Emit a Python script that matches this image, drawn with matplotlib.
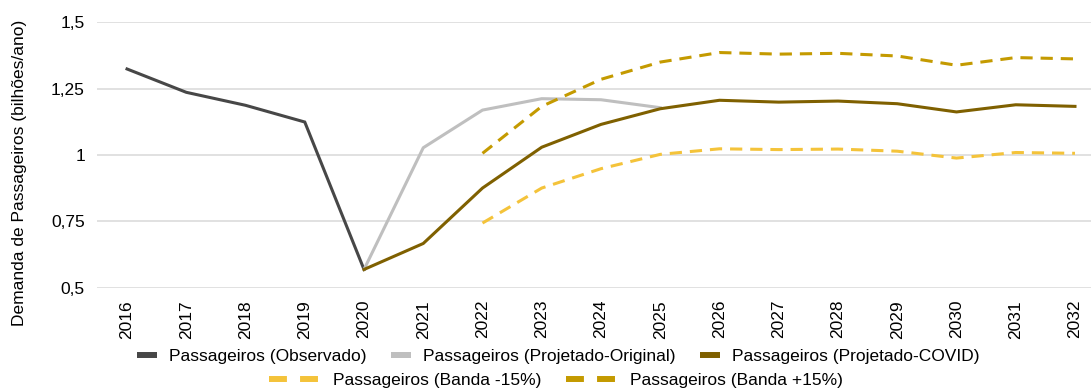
import numpy as np
import matplotlib
matplotlib.use("Agg")
import matplotlib.pyplot as plt
from matplotlib.lines import Line2D

plt.rcParams['font.family'] = ['Liberation Sans', 'DejaVu Sans']

# Years on the category axis
years = [str(y) for y in range(2016, 2033)]

nan = np.nan
# Passenger demand (billions / year)
observado = [1.324, 1.236, 1.187, 1.124, 0.568] + [nan] * 12
projetado_original = [nan] * 4 + [0.568, 1.027, 1.169, 1.212, 1.208, 1.178] + [nan] * 7
projetado_covid = [nan] * 4 + [0.568, 0.666, 0.875, 1.029, 1.115, 1.174,
                               1.206, 1.199, 1.203, 1.193, 1.162, 1.189, 1.183]
banda_menos = [nan] * 6 + [0.743, 0.875, 0.948, 1.002, 1.023, 1.020,
                           1.022, 1.014, 0.988, 1.009, 1.006]
banda_mais = [nan] * 6 + [1.006, 1.183, 1.285, 1.350, 1.386, 1.380,
                          1.383, 1.373, 1.338, 1.367, 1.362]

yticks = [0.5, 0.75, 1.0, 1.25, 1.5]
ytick_labels = ['0,5', '0,75', '1', '1,25', '1,5']

labels = ['Passageiros (Observado)', 'Passageiros (Projetado-Original)',
          'Passageiros (Projetado-COVID)', 'Passageiros (Banda -15%)',
          'Passageiros (Banda +15%)']
colors = ['#474747', '#bfbfbf', '#7f6000', '#f4c33a', '#c49a00']

W, H = 1091, 389
fig = plt.figure(figsize=(W / 100, H / 100), dpi=100)
# axes in pixel terms: x from 97.4 to 1104.6, y from 22.3 (top) to 287.5 (bottom)
ax = fig.add_axes([97.4 / W, (H - 287.5) / H, 1007.2 / W, 265.2 / H])
ax.set_clip_on(True)

x = np.arange(len(years))
lw = 2.2
dash = (0, (4.0, 2.6))
ax.plot(x, observado, color=colors[0], lw=lw, solid_joinstyle='miter', zorder=3)
ax.plot(x, projetado_original, color=colors[1], lw=lw, zorder=3)
ax.plot(x, projetado_covid, color=colors[2], lw=lw, zorder=4)
ax.plot(x, banda_menos, color=colors[3], lw=lw, linestyle=dash, zorder=5)
ax.plot(x, banda_mais, color=colors[4], lw=lw, linestyle=dash, zorder=5)

ax.set_xlim(-0.5, 16.5)
ax.set_ylim(0.5, 1.5)
ax.set_xticks(x)
ax.set_xticklabels(years, rotation=90, fontsize=12.5, color='#000000')
ax.set_yticks(yticks)
ax.set_yticklabels(ytick_labels, fontsize=12.5, color='#000000')
ax.tick_params(axis='both', length=0)
ax.tick_params(axis='x', pad=9)
ax.tick_params(axis='y', pad=9)
ax.grid(axis='y', color='#d9d9d9', lw=1.1)
ax.set_axisbelow(True)
for s in ax.spines.values():
    s.set_visible(False)

fig.text(20 / W, 1 - 173 / H, 'Demanda de Passageiros (bilhões/ano)',
         rotation=90, ha='center', va='center', fontsize=12.5)

# Legend, first row: solid series
h1 = [Line2D([], [], color=c, lw=4.3, solid_capstyle='butt') for c in colors[:3]]
leg1 = fig.legend(h1, labels[:3], loc='center', ncol=3,
                  bbox_to_anchor=(558 / W, 1 - 356 / H), frameon=False,
                  fontsize=12.5, handlelength=1.15, handletextpad=0.7,
                  columnspacing=1.4, borderpad=0, borderaxespad=0)
# Legend, second row: bands
h2 = [Line2D([], [], color=c, lw=4.3, linestyle=(0, (3.0, 2.2)),
             dash_capstyle='butt') for c in colors[3:]]
leg2 = fig.legend(h2, labels[3:], loc='center', ncol=2,
                  bbox_to_anchor=(556 / W, 1 - 380 / H), frameon=False,
                  fontsize=12.5, handlelength=2.95, handletextpad=0.75,
                  columnspacing=1.4, borderpad=0, borderaxespad=0)

fig.savefig('out.png', dpi=100)
